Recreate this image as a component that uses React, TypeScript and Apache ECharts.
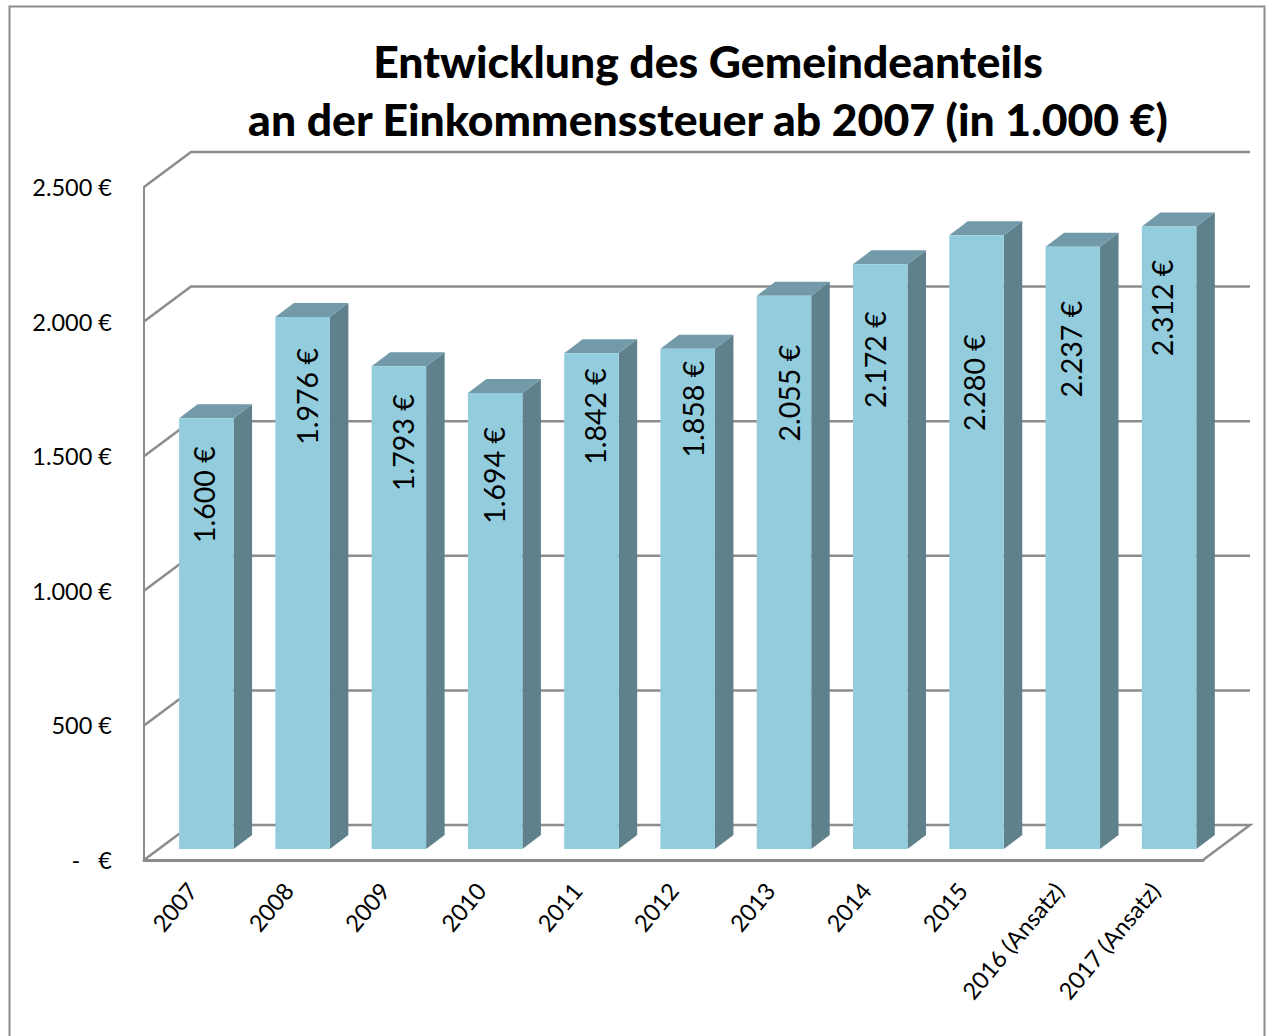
import React, { useEffect, useRef } from "react";
import * as echarts from "echarts";

const categories = ["2007", "2008", "2009", "2010", "2011", "2012", "2013", "2014", "2015", "2016 (Ansatz)", "2017 (Ansatz)"];
const values = [1600, 1976, 1793, 1694, 1842, 1858, 2055, 2172, 2280, 2237, 2312];
const yTicks = [0, 500, 1000, 1500, 2000, 2500];
const titleText = "Entwicklung des Gemeindeanteils\nan der Einkommenssteuer ab 2007 (in 1.000 €)";

// hand-placed label nudges of the original chart (px below bar top, px right of bar centre)
const labelDown = [28, 31, 28, 34, 15, 12, 49, 47, 99, 54, 33];
const labelRight = [-2, 4, 4, -1, 4, 5, 5, -5, -3, -2, -7];

const FONT = "Lato";
const GRAY = "#8c8c8c";
const WALL_DX = 47;
const WALL_DY = -35;
const BAR_SHIFT_X = 14.2;
const BAR_SHIFT_Y = -11;
const BAR_W = 54.5;
const DEPTH_X = 18.5;
const DEPTH_Y = -14;

const fmt = (v: number) => {
  if (v === 0) return "-   €";
  if (v < 1000) return v + " €";
  const s = String(v);
  return s.slice(0, -3) + "." + s.slice(-3) + " €";
};

export default function App() {
  const ref = useRef<HTMLDivElement>(null);
  useEffect(() => {
    const chart = echarts.init(ref.current!, undefined, { renderer: "svg" });
    chart.setOption({
      animation: false,
      backgroundColor: "#fff",
      title: {
        text: titleText,
        left: 703,
        top: 26,
        textAlign: "center",
        textStyle: { fontFamily: FONT, fontSize: 44.5, fontWeight: 900, color: "#000", lineHeight: 58 },
      },
      graphic: [
        {
          type: "polyline",
          silent: true,
          shape: { points: [[9.5, 1036], [9.5, 6.5], [1264.5, 6.5], [1264.5, 1036]] },
          style: { stroke: GRAY, lineWidth: 2, fill: "none" },
        },
      ],
      grid: { left: 144, top: 187, width: 1059, height: 673, containLabel: false },
      xAxis: {
        type: "category",
        data: categories,
        axisTick: { show: false },
        axisLine: { show: true, lineStyle: { color: GRAY, width: 3 } },
        axisLabel: { rotate: 50, interval: 0, margin: 26, color: "#000", fontFamily: FONT, fontSize: 23.5 },
      },
      yAxis: {
        type: "value",
        min: 0,
        max: 2500,
        interval: 500,
        splitLine: { show: false },
        axisTick: { show: false },
        axisLine: { show: true, lineStyle: { color: GRAY, width: 2 } },
        axisLabel: { margin: 32, color: "#000", fontFamily: FONT, fontSize: 23.5, formatter: fmt },
      },
      series: [
        {
          type: "custom",
          silent: true,
          z: 1,
          data: yTicks.map((t) => [0, t]),
          encode: { x: 0, y: 1 },
          renderItem: (params: any, api: any) => {
            const sys = params.coordSys;
            const v = api.value(1);
            const y = api.coord([0, v])[1];
            const x0 = sys.x;
            const x1 = sys.x + sys.width;
            const pts: number[][] = [
              [x0, y],
              [x0 + WALL_DX, y + WALL_DY],
              [x1 + WALL_DX, y + WALL_DY],
            ];
            if (v === 0) pts.push([x1, y]);
            return {
              type: "polyline",
              shape: { points: pts },
              style: { stroke: GRAY, lineWidth: 2.5, fill: "none" },
            };
          },
        },
        {
          type: "custom",
          silent: true,
          z: 3,
          data: values.map((v, i) => [i, v]),
          encode: { x: 0, y: 1 },
          renderItem: (_params: any, api: any) => {
            const i = api.value(0);
            const v = api.value(1);
            const top = api.coord([i, v]);
            const base = api.coord([i, 0]);
            const xc = top[0] + BAR_SHIFT_X;
            const l = xc - BAR_W / 2;
            const r = xc + BAR_W / 2;
            const t = top[1] + BAR_SHIFT_Y;
            const b = base[1] + BAR_SHIFT_Y;
            return {
              type: "group",
              children: [
                {
                  type: "polygon",
                  shape: { points: [[r, t], [r + DEPTH_X, t + DEPTH_Y], [r + DEPTH_X, b + DEPTH_Y], [r, b]] },
                  style: { fill: "#5f818c" },
                },
                {
                  type: "polygon",
                  shape: { points: [[l, t], [l + DEPTH_X, t + DEPTH_Y], [r + DEPTH_X, t + DEPTH_Y], [r, t]] },
                  style: { fill: "#729aa8" },
                },
                {
                  type: "rect",
                  shape: { x: l, y: t, width: BAR_W, height: b - t },
                  style: { fill: "#93cddd" },
                },
                {
                  type: "text",
                  x: xc + labelRight[i],
                  y: t + labelDown[i],
                  rotation: Math.PI / 2,
                  style: {
                    text: fmt(v),
                    fill: "#000",
                    fontFamily: FONT,
                    fontSize: 28.5,
                    textAlign: "right",
                    textVerticalAlign: "middle",
                  },
                },
              ],
            };
          },
        },
      ],
    });
    return () => chart.dispose();
  }, []);
  return <div ref={ref} style={{ position: "absolute", left: 0, top: 0, width: 1271, height: 1036 }} />;
}
